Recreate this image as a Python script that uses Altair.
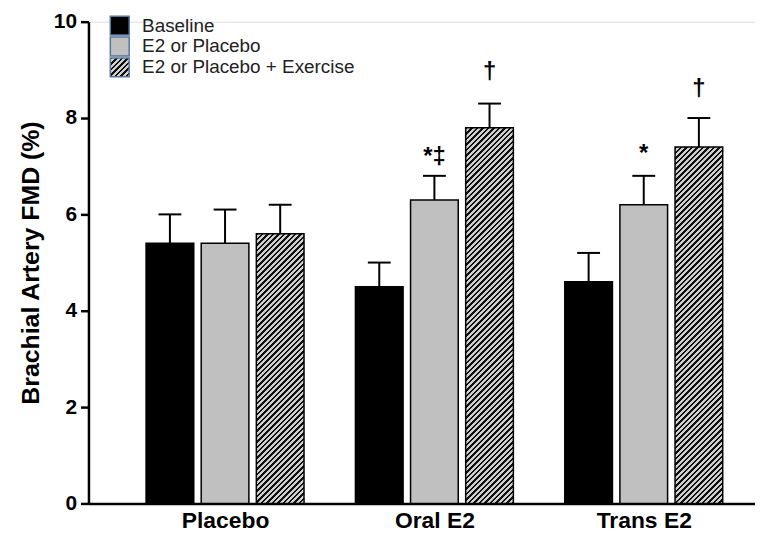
import altair as alt
import pandas as pd

# ---- data ----
groups = ["Placebo", "Oral E2", "Trans E2"]
series = ["Baseline", "E2 or Placebo", "E2 or Placebo + Exercise"]
baseline = [5.4, 4.5, 4.6]
e2_or_placebo = [5.4, 6.3, 6.2]
e2_exercise = [5.6, 7.8, 7.4]
baseline_err = [0.6, 0.5, 0.6]
e2_or_placebo_err = [0.7, 0.5, 0.6]
e2_exercise_err = [0.6, 0.5, 0.6]

ann_group = ["Oral E2", "Oral E2", "Trans E2", "Trans E2"]
ann_series = ["E2 or Placebo", "E2 or Placebo + Exercise", "E2 or Placebo", "E2 or Placebo + Exercise"]
ann_text = ["*\u2021", "\u2020", "*", "\u2020"]
ann_y = [7.05, 8.8, 7.1, 8.45]

y_ticks = [0, 2, 4, 6, 8, 10]

# ---- layout constants ----
W, H = 671, 485
U = 210.75                     # px per group step
XMIN = -137.5 / U
XMAX = (W - 137.5) / U
OFF = 55.5 / U                 # bar pitch inside a group
HW = 24.0 / U                  # half bar width
CAP = 11.5 / U                 # half cap width
BAR_PX = 2 * HW * U
PX_PER_Y = H / 10.0
FONT = "Liberation Sans"

vals = [baseline, e2_or_placebo, e2_exercise]
errs = [baseline_err, e2_or_placebo_err, e2_exercise_err]
rows = []
for gi, g in enumerate(groups):
    for si, s in enumerate(series):
        rows.append(dict(group=g, series=s, gi=gi, si=si,
                         value=vals[si][gi], err=errs[si][gi]))
df = pd.DataFrame(rows)

ann = pd.DataFrame(dict(
    gi=[groups.index(g) for g in ann_group],
    si=[series.index(s) for s in ann_series],
    text=ann_text, y=ann_y))

leg = pd.DataFrame(dict(series=series, idx=list(range(len(series)))))


def hatch(w, h, period=5.5, frac=0.45, ink="#111111", paper="#cfcfcf"):
    s = (w + h) / (w * w + h * h)
    n = (w + h) / period
    stops = []
    k = 0
    while k < n:
        a = k / n
        b = min((k + frac) / n, 1.0)
        c = min((k + 1) / n, 1.0)
        stops += [{"offset": a, "color": ink}, {"offset": b, "color": ink},
                  {"offset": b, "color": paper}, {"offset": c, "color": paper}]
        k += 1
    return {"gradient": "linear", "x1": 0, "y1": 0,
            "x2": w * s, "y2": h * s, "stops": stops}


xscale = alt.Scale(domain=[XMIN, XMAX], nice=False, zero=False)
yscale = alt.Scale(domain=[0, 10], nice=False)

label_expr = "[" + ",".join("'%s'" % g for g in groups) + "][datum.value]"

XAXIS = alt.Axis(
    values=[0, 1, 2], labelExpr=label_expr, title=None, grid=False,
    ticks=False, tickSize=0, labelPadding=6, labelFont=FONT,
    labelFontSize=23, labelFontWeight="bold", labelColor="black",
    domainColor="black", domainWidth=2.5)
YAXIS = alt.Axis(
    values=y_ticks, title="Brachial Artery FMD (%)", grid=False,
    tickSize=8, tickWidth=2.5, tickColor="black", labelPadding=4,
    labelFont=FONT, labelFontSize=21, labelFontWeight="bold",
    labelColor="black", domainColor="black", domainWidth=2.5,
    titleFont=FONT, titleFontSize=25, titleFontWeight="bold",
    titleColor="black", titlePadding=10)

base = alt.Chart(df).transform_calculate(
    xc=f"datum.gi + (datum.si - 1) * {OFF}",
).transform_calculate(
    x0=f"datum.xc - {HW}", x1=f"datum.xc + {HW}",
    c0=f"datum.xc - {CAP}", c1=f"datum.xc + {CAP}",
    top="datum.value + datum.err",
)

# error bars (upper only)
err_v = base.mark_rule(color="black", strokeWidth=2).encode(
    x=alt.X("xc:Q", scale=xscale, axis=XAXIS),
    y=alt.Y("value:Q", scale=yscale, axis=YAXIS),
    y2="top:Q",
)
err_cap = base.mark_rule(color="black", strokeWidth=2).encode(
    x=alt.X("c0:Q", scale=xscale, axis=XAXIS), x2="c1:Q",
    y=alt.Y("top:Q", scale=yscale, axis=YAXIS),
)

solid = base.transform_filter("datum.si < 2").mark_rect(
    stroke="black", strokeWidth=1.5).encode(
    x=alt.X("x0:Q", scale=xscale, axis=XAXIS), x2="x1:Q",
    y=alt.Y("value:Q", scale=yscale, axis=YAXIS), y2=alt.datum(0),
    fill=alt.condition("datum.si == 0", alt.value("black"), alt.value("#c0c0c0")),
)

hatched_layers = []
for gi, g in enumerate(groups):
    grad = hatch(BAR_PX, e2_exercise[gi] * PX_PER_Y)
    hatched_layers.append(
        base.transform_filter(f"datum.si == 2 && datum.gi == {gi}").mark_rect(
            stroke="black", strokeWidth=1.5, fill=grad).encode(
            x=alt.X("x0:Q", scale=xscale, axis=XAXIS), x2="x1:Q",
            y=alt.Y("value:Q", scale=yscale, axis=YAXIS), y2=alt.datum(0),
        ))

annot = alt.Chart(ann).transform_calculate(
    xc=f"datum.gi + (datum.si - 1) * {OFF}"
).mark_text(font=FONT, fontSize=24, fontWeight="bold", color="black",
            baseline="alphabetic", align="center").encode(
    x=alt.X("xc:Q", scale=xscale, axis=XAXIS),
    y=alt.Y("y:Q", scale=yscale, axis=YAXIS),
    text="text:N",
)

# legend drawn inside the plot, top-left
legbase = alt.Chart(leg).transform_calculate(
    cy="4 + datum.idx * 21"
).transform_calculate(
    ya="datum.cy - 9.5", yb="datum.cy + 9.5"
)
leg_sw = legbase.transform_filter("datum.idx < 2").mark_rect(
    stroke="#55779f", strokeWidth=1.5).encode(
    x=alt.value(22), x2=alt.value(41),
    y=alt.Y("ya:Q", scale=None), y2="yb:Q",
    fill=alt.condition("datum.idx == 0", alt.value("black"), alt.value("#c0c0c0")),
)
leg_hatch = legbase.transform_filter("datum.idx == 2").mark_rect(
    stroke="#55779f", strokeWidth=1.5, fill=hatch(19, 19)).encode(
    x=alt.value(22), x2=alt.value(41),
    y=alt.Y("ya:Q", scale=None), y2="yb:Q",
)
leg_txt = legbase.mark_text(font=FONT, fontSize=19, align="left",
                            baseline="middle", color="#222222").encode(
    x=alt.value(54), y=alt.Y("cy:Q", scale=None), text="series:N",
)

chart = alt.layer(
    err_v, err_cap, solid, *hatched_layers, annot, leg_sw, leg_hatch, leg_txt
).properties(
    width=W, height=H,
    autosize=alt.AutoSizeParams(type="none"),
    padding={"left": 81, "top": 12, "right": 0, "bottom": 30},
).configure_view(strokeWidth=0).configure(background="white")

chart.save("out.html", embed_options={"renderer": "svg", "actions": False})
